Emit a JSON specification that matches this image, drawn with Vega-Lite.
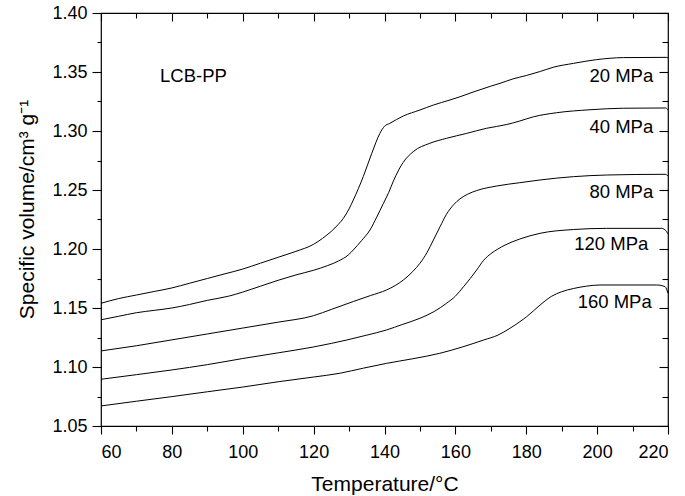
{
  "$schema": "https://vega.github.io/schema/vega-lite/v6.json",
  "width": 567,
  "height": 413,
  "autosize": {"type": "none"},
  "padding": {"left": 101, "top": 13, "right": 17, "bottom": 70},
  "background": "white",
  "config": {
    "view": {"stroke": "black", "strokeWidth": 1.2},
    "axis": {
      "labelFont": "Liberation Sans", "titleFont": "Liberation Sans",
      "labelColor": "black", "titleColor": "black", "tickColor": "black",
      "domain": false, "grid": false, "titleFontWeight": "normal", "tickWidth": 1.1
    },
    "text": {"font": "Liberation Sans"}
  },
  "datasets": {
    "curves": [
      {"p": "20 MPa", "T": 60, "v": 1.154}, {"p": "20 MPa", "T": 65, "v": 1.158}, {"p": "20 MPa", "T": 70, "v": 1.161},
      {"p": "20 MPa", "T": 75, "v": 1.164}, {"p": "20 MPa", "T": 80, "v": 1.167}, {"p": "20 MPa", "T": 85, "v": 1.171},
      {"p": "20 MPa", "T": 90, "v": 1.175}, {"p": "20 MPa", "T": 95, "v": 1.179}, {"p": "20 MPa", "T": 100, "v": 1.183},
      {"p": "20 MPa", "T": 105, "v": 1.188}, {"p": "20 MPa", "T": 110, "v": 1.193}, {"p": "20 MPa", "T": 115, "v": 1.198},
      {"p": "20 MPa", "T": 120, "v": 1.204}, {"p": "20 MPa", "T": 122.5, "v": 1.209}, {"p": "20 MPa", "T": 125, "v": 1.215},
      {"p": "20 MPa", "T": 127, "v": 1.221}, {"p": "20 MPa", "T": 128.4, "v": 1.226}, {"p": "20 MPa", "T": 130, "v": 1.234},
      {"p": "20 MPa", "T": 131.2, "v": 1.2415}, {"p": "20 MPa", "T": 134, "v": 1.2613},
      {"p": "20 MPa", "T": 136.4, "v": 1.281}, {"p": "20 MPa", "T": 138.7, "v": 1.298}, {"p": "20 MPa", "T": 140, "v": 1.304},
      {"p": "20 MPa", "T": 141.5, "v": 1.3065}, {"p": "20 MPa", "T": 145.3, "v": 1.3127}, {"p": "20 MPa", "T": 150, "v": 1.3178},
      {"p": "20 MPa", "T": 153.8, "v": 1.322}, {"p": "20 MPa", "T": 158.5, "v": 1.3263}, {"p": "20 MPa", "T": 161.3, "v": 1.329},
      {"p": "20 MPa", "T": 165, "v": 1.333}, {"p": "20 MPa", "T": 170, "v": 1.338}, {"p": "20 MPa", "T": 172.6, "v": 1.3404},
      {"p": "20 MPa", "T": 176.3, "v": 1.3442}, {"p": "20 MPa", "T": 180, "v": 1.347}, {"p": "20 MPa", "T": 184, "v": 1.3505},
      {"p": "20 MPa", "T": 187.6, "v": 1.354}, {"p": "20 MPa", "T": 193.3, "v": 1.3573}, {"p": "20 MPa", "T": 199.9, "v": 1.3605},
      {"p": "20 MPa", "T": 207.4, "v": 1.3622}, {"p": "20 MPa", "T": 219.5, "v": 1.3624}, {"p": "20 MPa", "T": 220, "v": 1.362},

      {"p": "40 MPa", "T": 60, "v": 1.140}, {"p": "40 MPa", "T": 65, "v": 1.143}, {"p": "40 MPa", "T": 70, "v": 1.146},
      {"p": "40 MPa", "T": 75, "v": 1.148}, {"p": "40 MPa", "T": 80, "v": 1.150}, {"p": "40 MPa", "T": 85, "v": 1.153},
      {"p": "40 MPa", "T": 90, "v": 1.1565}, {"p": "40 MPa", "T": 96, "v": 1.160}, {"p": "40 MPa", "T": 100, "v": 1.1635},
      {"p": "40 MPa", "T": 105, "v": 1.1685}, {"p": "40 MPa", "T": 110, "v": 1.1735}, {"p": "40 MPa", "T": 115, "v": 1.178},
      {"p": "40 MPa", "T": 120, "v": 1.182}, {"p": "40 MPa", "T": 124, "v": 1.186}, {"p": "40 MPa", "T": 127, "v": 1.1898},
      {"p": "40 MPa", "T": 129.8, "v": 1.195}, {"p": "40 MPa", "T": 131.2, "v": 1.1992}, {"p": "40 MPa", "T": 133.5, "v": 1.207},
      {"p": "40 MPa", "T": 135.9, "v": 1.2161}, {"p": "40 MPa", "T": 137.8, "v": 1.227}, {"p": "40 MPa", "T": 139.7, "v": 1.2387},
      {"p": "40 MPa", "T": 141.2, "v": 1.248}, {"p": "40 MPa", "T": 142.5, "v": 1.2575}, {"p": "40 MPa", "T": 144, "v": 1.267},
      {"p": "40 MPa", "T": 145.3, "v": 1.2735}, {"p": "40 MPa", "T": 148.1, "v": 1.2825}, {"p": "40 MPa", "T": 152.8, "v": 1.2896},
      {"p": "40 MPa", "T": 157.5, "v": 1.2938}, {"p": "40 MPa", "T": 163.2, "v": 1.298}, {"p": "40 MPa", "T": 168.8, "v": 1.3023},
      {"p": "40 MPa", "T": 174.5, "v": 1.3055}, {"p": "40 MPa", "T": 178.2, "v": 1.3085}, {"p": "40 MPa", "T": 182, "v": 1.312},
      {"p": "40 MPa", "T": 188.6, "v": 1.3155}, {"p": "40 MPa", "T": 198, "v": 1.318}, {"p": "40 MPa", "T": 207.4, "v": 1.3193},
      {"p": "40 MPa", "T": 219.3, "v": 1.3195}, {"p": "40 MPa", "T": 220, "v": 1.318},

      {"p": "80 MPa", "T": 60, "v": 1.1136}, {"p": "80 MPa", "T": 70, "v": 1.118}, {"p": "80 MPa", "T": 80, "v": 1.123},
      {"p": "80 MPa", "T": 90, "v": 1.128}, {"p": "80 MPa", "T": 100, "v": 1.133}, {"p": "80 MPa", "T": 110, "v": 1.138},
      {"p": "80 MPa", "T": 120, "v": 1.1435}, {"p": "80 MPa", "T": 125, "v": 1.1488},
      {"p": "80 MPa", "T": 131.2, "v": 1.1555}, {"p": "80 MPa", "T": 136, "v": 1.1605}, {"p": "80 MPa", "T": 140.6, "v": 1.1653},
      {"p": "80 MPa", "T": 143, "v": 1.169}, {"p": "80 MPa", "T": 145.3, "v": 1.1737}, {"p": "80 MPa", "T": 148, "v": 1.181},
      {"p": "80 MPa", "T": 150, "v": 1.1879}, {"p": "80 MPa", "T": 152, "v": 1.197}, {"p": "80 MPa", "T": 153.8, "v": 1.2076},
      {"p": "80 MPa", "T": 155.7, "v": 1.219}, {"p": "80 MPa", "T": 157.5, "v": 1.2295}, {"p": "80 MPa", "T": 159.5, "v": 1.2375},
      {"p": "80 MPa", "T": 161.3, "v": 1.2425}, {"p": "80 MPa", "T": 163.5, "v": 1.2465}, {"p": "80 MPa", "T": 166, "v": 1.2495},
      {"p": "80 MPa", "T": 171.7, "v": 1.2534}, {"p": "80 MPa", "T": 178.2, "v": 1.2562}, {"p": "80 MPa", "T": 183.9, "v": 1.2585},
      {"p": "80 MPa", "T": 193.3, "v": 1.2613}, {"p": "80 MPa", "T": 202.7, "v": 1.2627}, {"p": "80 MPa", "T": 219.2, "v": 1.2633},
      {"p": "80 MPa", "T": 220, "v": 1.262},

      {"p": "120 MPa", "T": 60, "v": 1.0896}, {"p": "120 MPa", "T": 70, "v": 1.0935}, {"p": "120 MPa", "T": 80, "v": 1.0975},
      {"p": "120 MPa", "T": 90, "v": 1.102}, {"p": "120 MPa", "T": 100, "v": 1.1072}, {"p": "120 MPa", "T": 110, "v": 1.112},
      {"p": "120 MPa", "T": 120, "v": 1.117}, {"p": "120 MPa", "T": 125, "v": 1.120}, {"p": "120 MPa", "T": 129.4, "v": 1.1229},
      {"p": "120 MPa", "T": 135, "v": 1.127}, {"p": "120 MPa", "T": 140.6, "v": 1.1314}, {"p": "120 MPa", "T": 145, "v": 1.136},
      {"p": "120 MPa", "T": 150, "v": 1.1413}, {"p": "120 MPa", "T": 154, "v": 1.147}, {"p": "120 MPa", "T": 157.5, "v": 1.154},
      {"p": "120 MPa", "T": 160, "v": 1.160}, {"p": "120 MPa", "T": 162.3, "v": 1.168}, {"p": "120 MPa", "T": 164.2, "v": 1.175},
      {"p": "120 MPa", "T": 166, "v": 1.1822}, {"p": "120 MPa", "T": 168, "v": 1.1905}, {"p": "120 MPa", "T": 170, "v": 1.196},
      {"p": "120 MPa", "T": 172, "v": 1.2},  {"p": "120 MPa", "T": 174, "v": 1.2033}, {"p": "120 MPa", "T": 176, "v": 1.206},
      {"p": "120 MPa", "T": 178.2, "v": 1.2085},
      {"p": "120 MPa", "T": 183.9, "v": 1.2133}, {"p": "120 MPa", "T": 193.3, "v": 1.2165}, {"p": "120 MPa", "T": 202.7, "v": 1.2175},
      {"p": "120 MPa", "T": 218.2, "v": 1.2175}, {"p": "120 MPa", "T": 219.6, "v": 1.2147}, {"p": "120 MPa", "T": 219.9, "v": 1.213},

      {"p": "160 MPa", "T": 60, "v": 1.067}, {"p": "160 MPa", "T": 70, "v": 1.071}, {"p": "160 MPa", "T": 80, "v": 1.0749},
      {"p": "160 MPa", "T": 90, "v": 1.079}, {"p": "160 MPa", "T": 100, "v": 1.083}, {"p": "160 MPa", "T": 110, "v": 1.0875},
      {"p": "160 MPa", "T": 120, "v": 1.0915}, {"p": "160 MPa", "T": 127.4, "v": 1.0947}, {"p": "160 MPa", "T": 134, "v": 1.099},
      {"p": "160 MPa", "T": 140.6, "v": 1.1031}, {"p": "160 MPa", "T": 148, "v": 1.107}, {"p": "160 MPa", "T": 155.6, "v": 1.1116},
      {"p": "160 MPa", "T": 162, "v": 1.117}, {"p": "160 MPa", "T": 168, "v": 1.1229}, {"p": "160 MPa", "T": 172, "v": 1.127},
      {"p": "160 MPa", "T": 175.4, "v": 1.1328}, {"p": "160 MPa", "T": 178.2, "v": 1.1384}, {"p": "160 MPa", "T": 180.1, "v": 1.1426},
      {"p": "160 MPa", "T": 182, "v": 1.1475}, {"p": "160 MPa", "T": 183.9, "v": 1.1525}, {"p": "160 MPa", "T": 187.2, "v": 1.1600},
      {"p": "160 MPa", "T": 190, "v": 1.1638}, {"p": "160 MPa", "T": 193.3, "v": 1.1665}, {"p": "160 MPa", "T": 197, "v": 1.1685},
      {"p": "160 MPa", "T": 200.8, "v": 1.1695}, {"p": "160 MPa", "T": 216.8, "v": 1.1695}, {"p": "160 MPa", "T": 219.2, "v": 1.168},
      {"p": "160 MPa", "T": 220, "v": 1.1625}
    ],
    "labels": [
      {"label": "LCB-PP", "T": 76.65, "v": 1.3468, "side": "left"},
      {"label": "20 MPa", "T": 215.84, "v": 1.3468, "side": "right"},
      {"label": "40 MPa", "T": 215.84, "v": 1.303, "side": "right"},
      {"label": "80 MPa", "T": 215.84, "v": 1.2486, "side": "right"},
      {"label": "120 MPa", "T": 214.43, "v": 1.2044, "side": "right"},
      {"label": "160 MPa", "T": 215.4, "v": 1.1547, "side": "right"}
    ]
  },
  "resolve": {"axis": {"x": "independent", "y": "independent"}},
  "layer": [
    {
      "data": {"name": "curves"},
      "mark": {"type": "line", "color": "black", "strokeWidth": 1, "interpolate": "monotone"},
      "encoding": {
        "x": {"field": "T", "type": "quantitative",
          "scale": {"domain": [60, 220], "nice": false, "zero": false},
          "axis": {"orient": "bottom", "values": [60, 80, 100, 120, 140, 160, 180, 200, 220], "tickSize": 8,
            "labelFontSize": 18, "labelPadding": 9, "title": "Temperature/°C", "titleFontSize": 21, "titlePadding": 12}},
        "y": {"field": "v", "type": "quantitative",
          "scale": {"domain": [1.05, 1.40], "nice": false, "zero": false},
          "axis": {"orient": "left", "values": [1.05, 1.10, 1.15, 1.20, 1.25, 1.30, 1.35, 1.40], "format": ".2f", "tickSize": 9,
            "labelFontSize": 18, "labelPadding": 5, "title": "Specific volume/cm³ g⁻¹", "titleFontSize": 21, "titlePadding": 14, "titleY": 196}},
        "detail": {"field": "p", "type": "nominal"}
      }
    },
    {
      "data": {"name": "curves"},
      "mark": {"type": "line", "strokeOpacity": 0},
      "encoding": {
        "x": {"field": "T", "type": "quantitative",
          "scale": {"domain": [60, 220], "nice": false, "zero": false},
          "axis": {"orient": "bottom", "values": [70, 90, 110, 130, 150, 170, 190, 210], "tickSize": 5, "labels": false, "title": null}},
        "y": {"field": "v", "type": "quantitative",
          "scale": {"domain": [1.05, 1.40], "nice": false, "zero": false},
          "axis": {"orient": "left", "values": [1.075, 1.125, 1.175, 1.225, 1.275, 1.325, 1.375], "tickSize": 4, "labels": false, "title": null}},
        "detail": {"field": "p", "type": "nominal"}
      }
    },
    {
      "data": {"name": "curves"},
      "mark": {"type": "line", "strokeOpacity": 0},
      "encoding": {
        "x": {"field": "T", "type": "quantitative",
          "scale": {"domain": [60, 220], "nice": false, "zero": false},
          "axis": {"orient": "top", "values": [60, 80, 100, 120, 140, 160, 180, 200, 220], "tickSize": -8, "labels": false, "title": null}},
        "y": {"field": "v", "type": "quantitative",
          "scale": {"domain": [1.05, 1.40], "nice": false, "zero": false},
          "axis": {"orient": "right", "values": [1.05, 1.10, 1.15, 1.20, 1.25, 1.30, 1.35, 1.40], "tickSize": -9, "labels": false, "title": null}},
        "detail": {"field": "p", "type": "nominal"}
      }
    },
    {
      "data": {"name": "curves"},
      "mark": {"type": "line", "strokeOpacity": 0},
      "encoding": {
        "x": {"field": "T", "type": "quantitative",
          "scale": {"domain": [60, 220], "nice": false, "zero": false},
          "axis": {"orient": "top", "values": [70, 90, 110, 130, 150, 170, 190, 210], "tickSize": -5, "labels": false, "title": null}},
        "y": {"field": "v", "type": "quantitative",
          "scale": {"domain": [1.05, 1.40], "nice": false, "zero": false},
          "axis": {"orient": "right", "values": [1.075, 1.125, 1.175, 1.225, 1.275, 1.325, 1.375], "tickSize": -6, "labels": false, "title": null}},
        "detail": {"field": "p", "type": "nominal"}
      }
    },
    {
      "data": {"name": "labels"},
      "transform": [{"filter": "datum.side == 'right'"}],
      "mark": {"type": "text", "align": "right", "baseline": "middle", "fontSize": 18.5, "color": "black"},
      "encoding": {
        "x": {"field": "T", "type": "quantitative", "scale": {"domain": [60, 220], "nice": false, "zero": false}, "axis": null},
        "y": {"field": "v", "type": "quantitative", "scale": {"domain": [1.05, 1.40], "nice": false, "zero": false}, "axis": null},
        "text": {"field": "label"}
      }
    },
    {
      "data": {"name": "labels"},
      "transform": [{"filter": "datum.side == 'left'"}],
      "mark": {"type": "text", "align": "left", "baseline": "middle", "fontSize": 18.5, "color": "black"},
      "encoding": {
        "x": {"field": "T", "type": "quantitative", "scale": {"domain": [60, 220], "nice": false, "zero": false}, "axis": null},
        "y": {"field": "v", "type": "quantitative", "scale": {"domain": [1.05, 1.40], "nice": false, "zero": false}, "axis": null},
        "text": {"field": "label"}
      }
    }
  ]
}
